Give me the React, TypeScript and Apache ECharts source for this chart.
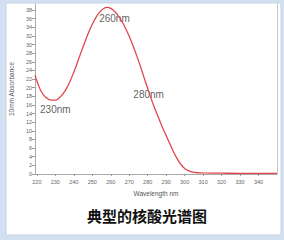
import React, { useEffect, useRef } from "react";
import * as echarts from "echarts";

const wavelengths = [219, 220, 222, 224, 226, 228, 230, 232, 234, 236, 238, 240, 242, 244, 246, 248, 250, 252, 254, 256, 258, 260, 262, 264, 266, 268, 270, 272, 274, 276, 278, 280, 282, 284, 286, 288, 290, 292, 294, 296, 298, 300, 302, 304, 306, 308, 310, 320, 330, 340, 350];
const absorbance = [22.9, 21.6, 19.4, 18.1, 17.4, 17.1, 17.1, 17.6, 18.5, 19.8, 21.5, 23.6, 25.9, 28.3, 30.6, 32.8, 34.7, 36.3, 37.5, 38.3, 38.6, 38.4, 37.7, 36.7, 35.4, 33.8, 31.9, 29.8, 27.5, 25.0, 22.4, 19.8, 17.3, 15.0, 12.9, 10.8, 8.9, 7.0, 5.1, 3.5, 2.2, 1.3, 0.8, 0.5, 0.35, 0.28, 0.25, 0.2, 0.15, 0.15, 0.15];
const xTicks = [220, 230, 240, 250, 260, 270, 280, 290, 300, 310, 320, 330, 340];
const yTicks = [0, 2, 4, 6, 8, 10, 12, 14, 16, 18, 20, 22, 24, 26, 28, 30, 32, 34, 36, 38];
const annotationLabels = ["230nm", "260nm", "280nm"];
const annotationX = [230, 262, 280.5];
const annotationY = [15.0, 36.0, 18.4];
const chartTitle = "典型的核酸光谱图";
const xName = "Wavelength nm";
const yName = "10mm Absorbance";

export default function App() {
  const ref = useRef<HTMLDivElement>(null);
  useEffect(() => {
    if (!ref.current) return;
    const chart = echarts.init(ref.current, null, { renderer: "svg" });
    const font = "Liberation Sans, Arial, sans-serif";
    chart.setOption({
      animation: false,
      backgroundColor: "#d2e1f1",
      graphic: [
        {
          type: "rect",
          z: -10,
          shape: { x: 6, y: 3, width: 275, height: 232 },
          style: { fill: "#ffffff", stroke: "#c4d2e0", lineWidth: 1 },
        },
        {
          type: "text",
          z: 10,
          x: 147,
          y: 215,
          style: {
            text: chartTitle,
            fill: "#111",
            fontSize: 15,
            fontWeight: "bold",
            fontFamily: "Noto Sans CJK SC",
            align: "center",
            verticalAlign: "middle",
          },
        },
      ],
      grid: { left: 34, right: 7, top: 4, bottom: 66 },
      xAxis: {
        type: "value",
        min: 219,
        max: 350,
        name: xName,
        nameLocation: "middle",
        nameGap: 16,
        nameTextStyle: { fontSize: 6.5, color: "#555", fontFamily: font },
        axisLine: { show: true, lineStyle: { color: "#aaa", width: 1 } },
        axisTick: { show: true, length: 2, customValues: xTicks, lineStyle: { color: "#999" } },
        axisLabel: { customValues: xTicks, fontSize: 5.5, color: "#666", margin: 5, fontFamily: font },
        splitLine: { show: false },
      },
      yAxis: [
        {
          type: "value",
          min: 0,
          max: 39.4,
          name: yName,
          nameLocation: "middle",
          nameGap: 18,
          nameTextStyle: { fontSize: 6.5, color: "#555", fontFamily: font },
          axisLine: { show: true, lineStyle: { color: "#aaa", width: 1 } },
          axisTick: { show: true, length: 3, customValues: yTicks, lineStyle: { color: "#999" } },
          axisLabel: { customValues: yTicks, fontSize: 5.5, color: "#666", margin: 3, fontFamily: font },
          splitLine: { show: false },
        },
        {
          type: "value",
          min: 0,
          max: 39.4,
          position: "right",
          axisLine: { show: true, lineStyle: { color: "#c8c8c8", width: 1 } },
          axisTick: { show: false },
          axisLabel: { show: false },
          splitLine: { show: false },
        },
      ],
      series: [
        {
          type: "line",
          yAxisIndex: 0,
          data: wavelengths.map((w, i) => [w, absorbance[i]]),
          smooth: 0.4,
          showSymbol: false,
          lineStyle: { color: "#e0474c", width: 1.3 },
        },
        {
          type: "scatter",
          yAxisIndex: 0,
          symbolSize: 0,
          data: annotationLabels.map((t, i) => [annotationX[i], annotationY[i], t]),
          label: {
            show: true,
            position: "inside",
            formatter: (p: any) => p.value[2],
            fontSize: 10,
            color: "#333",
            fontFamily: font,
          },
        },
      ],
    });
    return () => chart.dispose();
  }, []);
  return (
    <div
      ref={ref}
      style={{ position: "absolute", left: 0, top: 0, width: 284, height: 240 }}
    />
  );
}
